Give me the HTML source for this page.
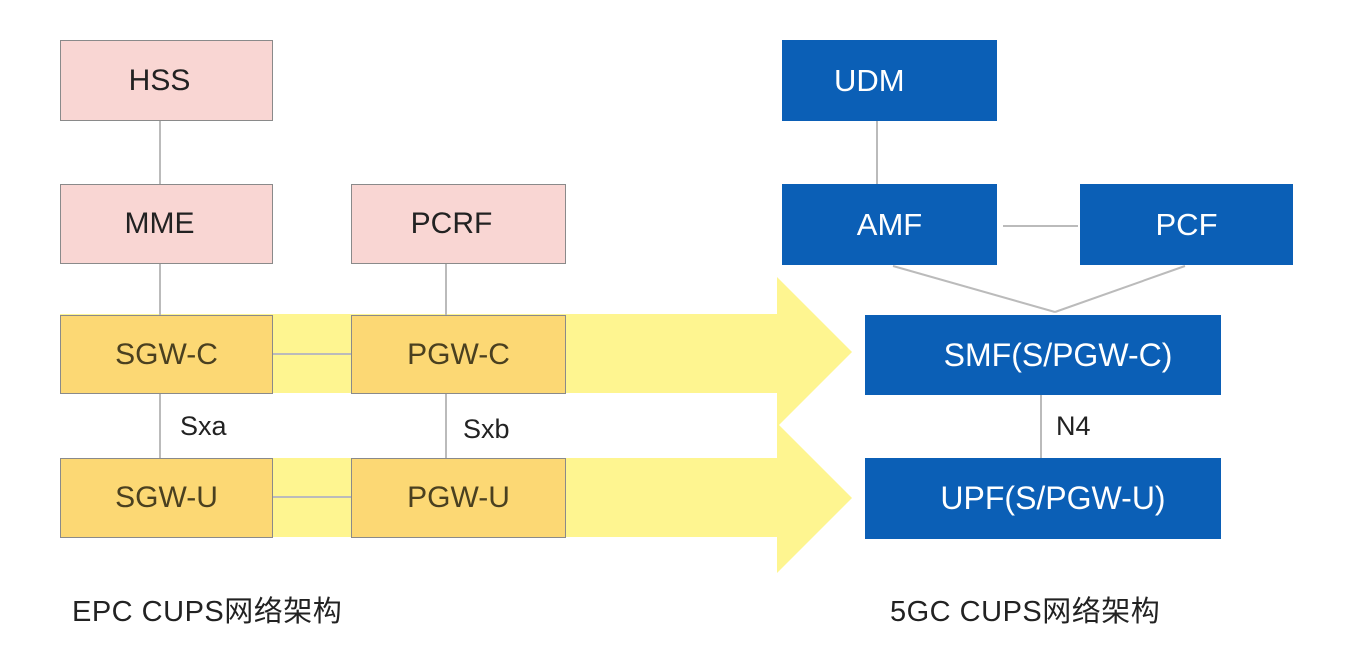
<!DOCTYPE html>
<html><head><meta charset="utf-8"><style>
body{margin:0;background:#fff;width:1354px;height:661px;overflow:hidden;position:relative;font-family:"Liberation Sans","Noto Sans CJK SC",sans-serif}
.b{position:absolute;box-sizing:border-box;display:flex;align-items:center;justify-content:center;font-size:30px}
.p{background:#f9d6d3;border:1.5px solid #8a8a8a;color:#222;padding-right:14px}
.y{background:#fcd874;border:1.5px solid #8a8a8a;color:#4a4020}
.u{background:#0b5fb6;color:#fff;font-size:31px}
.t{position:absolute;font-size:27px;color:#222}
.c{position:absolute;font-size:29px;color:#222;letter-spacing:0.5px}
</style></head><body>
<svg width="1354" height="661" style="position:absolute;left:0;top:0">
<polygon points="60,314 777,314 777,277 852,352 777,427 777,393 60,393" fill="#fef590"/>
<polygon points="60,458 777,458 777,423 852,498 777,573 777,537 60,537" fill="#fef590"/>
<g stroke="#bbb" stroke-width="2" fill="none">
<line x1="160" y1="121" x2="160" y2="184"/><line x1="160" y1="264" x2="160" y2="315"/>
<line x1="446" y1="264" x2="446" y2="315"/>
<line x1="273" y1="354" x2="351" y2="354"/><line x1="273" y1="497" x2="351" y2="497"/>
<line x1="160" y1="394" x2="160" y2="458"/><line x1="446" y1="394" x2="446" y2="458"/>
<line x1="877" y1="121" x2="877" y2="184"/><line x1="1003" y1="226" x2="1078" y2="226"/>
<line x1="893" y1="266" x2="1055" y2="312"/><line x1="1185" y1="266" x2="1055" y2="312"/>
<line x1="1041" y1="395" x2="1041" y2="458"/>
</g></svg>
<div class="b p" style="left:60px;top:40px;width:213px;height:81px">HSS</div>
<div class="b p" style="left:60px;top:184px;width:213px;height:80px">MME</div>
<div class="b p" style="left:351px;top:184px;width:215px;height:80px">PCRF</div>
<div class="b y" style="left:60px;top:315px;width:213px;height:79px">SGW-C</div>
<div class="b y" style="left:351px;top:315px;width:215px;height:79px">PGW-C</div>
<div class="b y" style="left:60px;top:458px;width:213px;height:80px">SGW-U</div>
<div class="b y" style="left:351px;top:458px;width:215px;height:80px">PGW-U</div>
<div class="b u" style="left:782px;top:40px;width:215px;height:81px;justify-content:flex-start;padding-left:52px">UDM</div>
<div class="b u" style="left:782px;top:184px;width:215px;height:81px">AMF</div>
<div class="b u" style="left:1080px;top:184px;width:213px;height:81px">PCF</div>
<div class="b u" style="left:865px;top:315px;width:356px;height:80px;padding-left:30px;font-size:32px">SMF(S/PGW-C)</div>
<div class="b u" style="left:865px;top:458px;width:356px;height:81px;padding-left:20px;font-size:32px">UPF(S/PGW-U)</div>
<div class="t" style="left:180px;top:411px">Sxa</div>
<div class="t" style="left:463px;top:414px">Sxb</div>
<div class="t" style="left:1056px;top:411px">N4</div>
<div class="c" style="left:72px;top:588px">EPC CUPS网络架构</div>
<div class="c" style="left:890px;top:588px">5GC CUPS网络架构</div>
</body></html>
